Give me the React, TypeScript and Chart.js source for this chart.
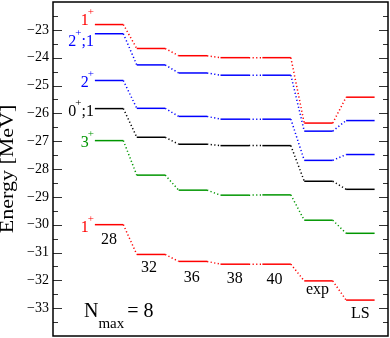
import React, { useEffect, useRef } from 'react';
import { Chart, registerables } from 'chart.js';

Chart.register(...registerables);

// ---- data ----
const columns = ['28', '32', '36', '38', '40', 'exp', 'LS'];
const red1Upper = [-22.81, -23.67, -23.93, -24.0, -24.0, -26.35, -25.42];
const blue2T1 = [-23.14, -24.26, -24.55, -24.63, -24.63, -26.64, -26.26];
const blue2 = [-24.82, -25.82, -26.11, -26.21, -26.21, -27.69, -27.48];
const black0T1 = [-25.83, -26.86, -27.11, -27.16, -27.16, -28.44, -28.73];
const green3 = [-26.98, -28.22, -28.76, -28.94, -28.93, -29.84, -30.31];
const red1Lower = [-30.0, -31.07, -31.32, -31.42, -31.42, -32.02, -32.71];
const yTickValues = [-33, -32, -31, -30, -29, -28, -27, -26, -25, -24, -23];

// state labels: [main, superscript, rest]
const stateLabels: [string, string, string][] = [
  ['1', '+', ''],
  ['2', '+', ';1'],
  ['2', '+', ''],
  ['0', '+', ';1'],
  ['3', '+', ''],
  ['1', '+', ''],
];

// ---- styles / layout ----
const FAMILY = '"Liberation Serif", "Times New Roman", serif';
const RED = '#ff0000';
const BLUE = '#0000ff';
const BLACK = '#000000';
const GREEN = 'rgb(0,150,0)';
const stateSeries = [red1Upper, blue2T1, blue2, black0T1, green3, red1Lower];
const stateColors = [RED, BLUE, BLUE, BLACK, GREEN, RED];
const stateLabelDy = [0, 12, 7, 7, 6, 7]; // px, baseline below level line
const colLabelDy = [19, 17.7, 20.7, 19, 19.6, 13, 18];
const colLabelDx = [0, -2, -1, 0, -2, -1, 0];
const LEVEL_W = 0.68;
const X_MIN = 0;
const X_MAX = 8;
const Y_MIN = -34;
const Y_MAX = -22;
const NMAX_POS = { x: 0.74, y: -33.32 };

function buildPoints(values: number[]) {
  const pts: { x: number; y: number }[] = [];
  values.forEach((v, i) => {
    pts.push({ x: i + 1, y: v });
    pts.push({ x: i + 1 + LEVEL_W, y: v });
  });
  return pts;
}

const overlayPlugin = {
  id: 'overlay',
  afterDatasetsDraw(chart: any) {
    const { ctx, chartArea: a, scales } = chart;
    const xs = scales.x;
    const ys = scales.y;
    ctx.save();

    // ticks (inward, both sides)
    ctx.strokeStyle = '#333';
    ctx.lineWidth = 1;
    for (let v = Y_MIN + 0.5; v < Y_MAX - 0.01; v += 0.5) {
      const py = Math.round(ys.getPixelForValue(v)) + 0.5;
      const major = Math.abs(v - Math.round(v)) < 1e-6;
      const len = major ? 9 : 5;
      ctx.beginPath();
      ctx.moveTo(a.left, py);
      ctx.lineTo(a.left + len, py);
      ctx.moveTo(a.right, py);
      ctx.lineTo(a.right - len, py);
      ctx.stroke();
    }

    // frame
    ctx.strokeStyle = '#000';
    ctx.lineWidth = 1.5;
    ctx.strokeRect(a.left, a.top, a.right - a.left, a.bottom - a.top);

    // state labels
    ctx.textBaseline = 'alphabetic';
    ctx.textAlign = 'left';
    stateLabels.forEach((lab, i) => {
      const [main, sup, rest] = lab;
      const xr = xs.getPixelForValue(1) - 1;
      const yb = ys.getPixelForValue(stateSeries[i][0]) + stateLabelDy[i];
      ctx.font = `16px ${FAMILY}`;
      const wm = ctx.measureText(main).width;
      const wr = ctx.measureText(rest).width;
      ctx.font = `11px ${FAMILY}`;
      const ws = ctx.measureText(sup).width;
      const x0 = xr - (wm + ws + wr - 1);
      ctx.fillStyle = stateColors[i];
      ctx.font = `16px ${FAMILY}`;
      ctx.fillText(main, x0, yb);
      ctx.font = `11px ${FAMILY}`;
      ctx.fillText(sup, x0 + wm - 1, yb - 10);
      ctx.font = `16px ${FAMILY}`;
      ctx.fillText(rest, x0 + wm + ws - 1, yb);
    });

    // column labels
    ctx.fillStyle = '#000';
    ctx.font = `16px ${FAMILY}`;
    ctx.textAlign = 'center';
    columns.forEach((c, i) => {
      const px = xs.getPixelForValue(i + 1 + LEVEL_W / 2) + colLabelDx[i];
      const py = ys.getPixelForValue(red1Lower[i]) + colLabelDy[i];
      ctx.fillText(c, px, py);
    });

    // N_max = 8
    ctx.textAlign = 'left';
    const nx = xs.getPixelForValue(NMAX_POS.x);
    const ny = ys.getPixelForValue(NMAX_POS.y);
    ctx.font = `20px ${FAMILY}`;
    ctx.fillText('N', nx, ny);
    const wn = ctx.measureText('N').width;
    ctx.font = `15px ${FAMILY}`;
    ctx.fillText('max', nx + wn, ny + 11);
    const wmax = ctx.measureText('max').width;
    ctx.font = `20px ${FAMILY}`;
    ctx.fillText('= 8', nx + wn + wmax + 3, ny);

    // y axis title
    ctx.save();
    ctx.translate(8, (a.top + a.bottom) / 2);
    ctx.rotate(-Math.PI / 2);
    ctx.scale(1, 0.85);
    ctx.textAlign = 'center';
    ctx.textBaseline = 'middle';
    ctx.font = `22px ${FAMILY}`;
    ctx.fillStyle = '#000';
    ctx.fillText('Energy [MeV]', 0, 0);
    ctx.restore();

    ctx.restore();
  },
};

export default function App() {
  const ref = useRef<HTMLCanvasElement | null>(null);

  useEffect(() => {
    if (!ref.current) return;
    const datasets = stateSeries.map((vals, i) => ({
      data: buildPoints(vals),
      borderColor: stateColors[i],
      backgroundColor: stateColors[i],
      borderWidth: 1.5,
      pointRadius: 0,
      fill: false,
      tension: 0,
      segment: {
        borderDash: (ctx: any) => (ctx.p0DataIndex % 2 === 1 ? [1.2, 2.4] : []),
      },
    }));

    const chart = new Chart(ref.current, {
      type: 'line',
      data: { datasets },
      options: {
        animation: false,
        responsive: false,
        maintainAspectRatio: false,
        events: [],
        layout: { padding: { top: 2, right: 2, bottom: 2, left: 0 } },
        plugins: {
          legend: { display: false },
          tooltip: { enabled: false },
        },
        scales: {
          x: { type: 'linear', min: X_MIN, max: X_MAX, display: false },
          y: {
            type: 'linear',
            min: Y_MIN,
            max: Y_MAX,
            afterBuildTicks: (s: any) => {
              s.ticks = yTickValues.map((v) => ({ value: v }));
            },
            afterFit: (s: any) => {
              s.width = 53;
              s.paddingTop = 0;
              s.paddingBottom = 0;
            },
            grid: { display: false, drawTicks: false },
            border: { display: false },
            ticks: {
              padding: 4,
              color: '#000',
              font: { family: FAMILY, size: 14 },
              callback: (v: any) => '\u2212' + Math.abs(Number(v)),
            },
          },
        },
      },
      plugins: [overlayPlugin],
    } as any);
    return () => chart.destroy();
  }, []);

  return (
    <div style={{ position: 'absolute', left: 0, top: 0, width: 390, height: 338, background: '#fff' }}>
      <canvas ref={ref} width={390} height={338} style={{ width: 390, height: 338, display: 'block' }} />
    </div>
  );
}
